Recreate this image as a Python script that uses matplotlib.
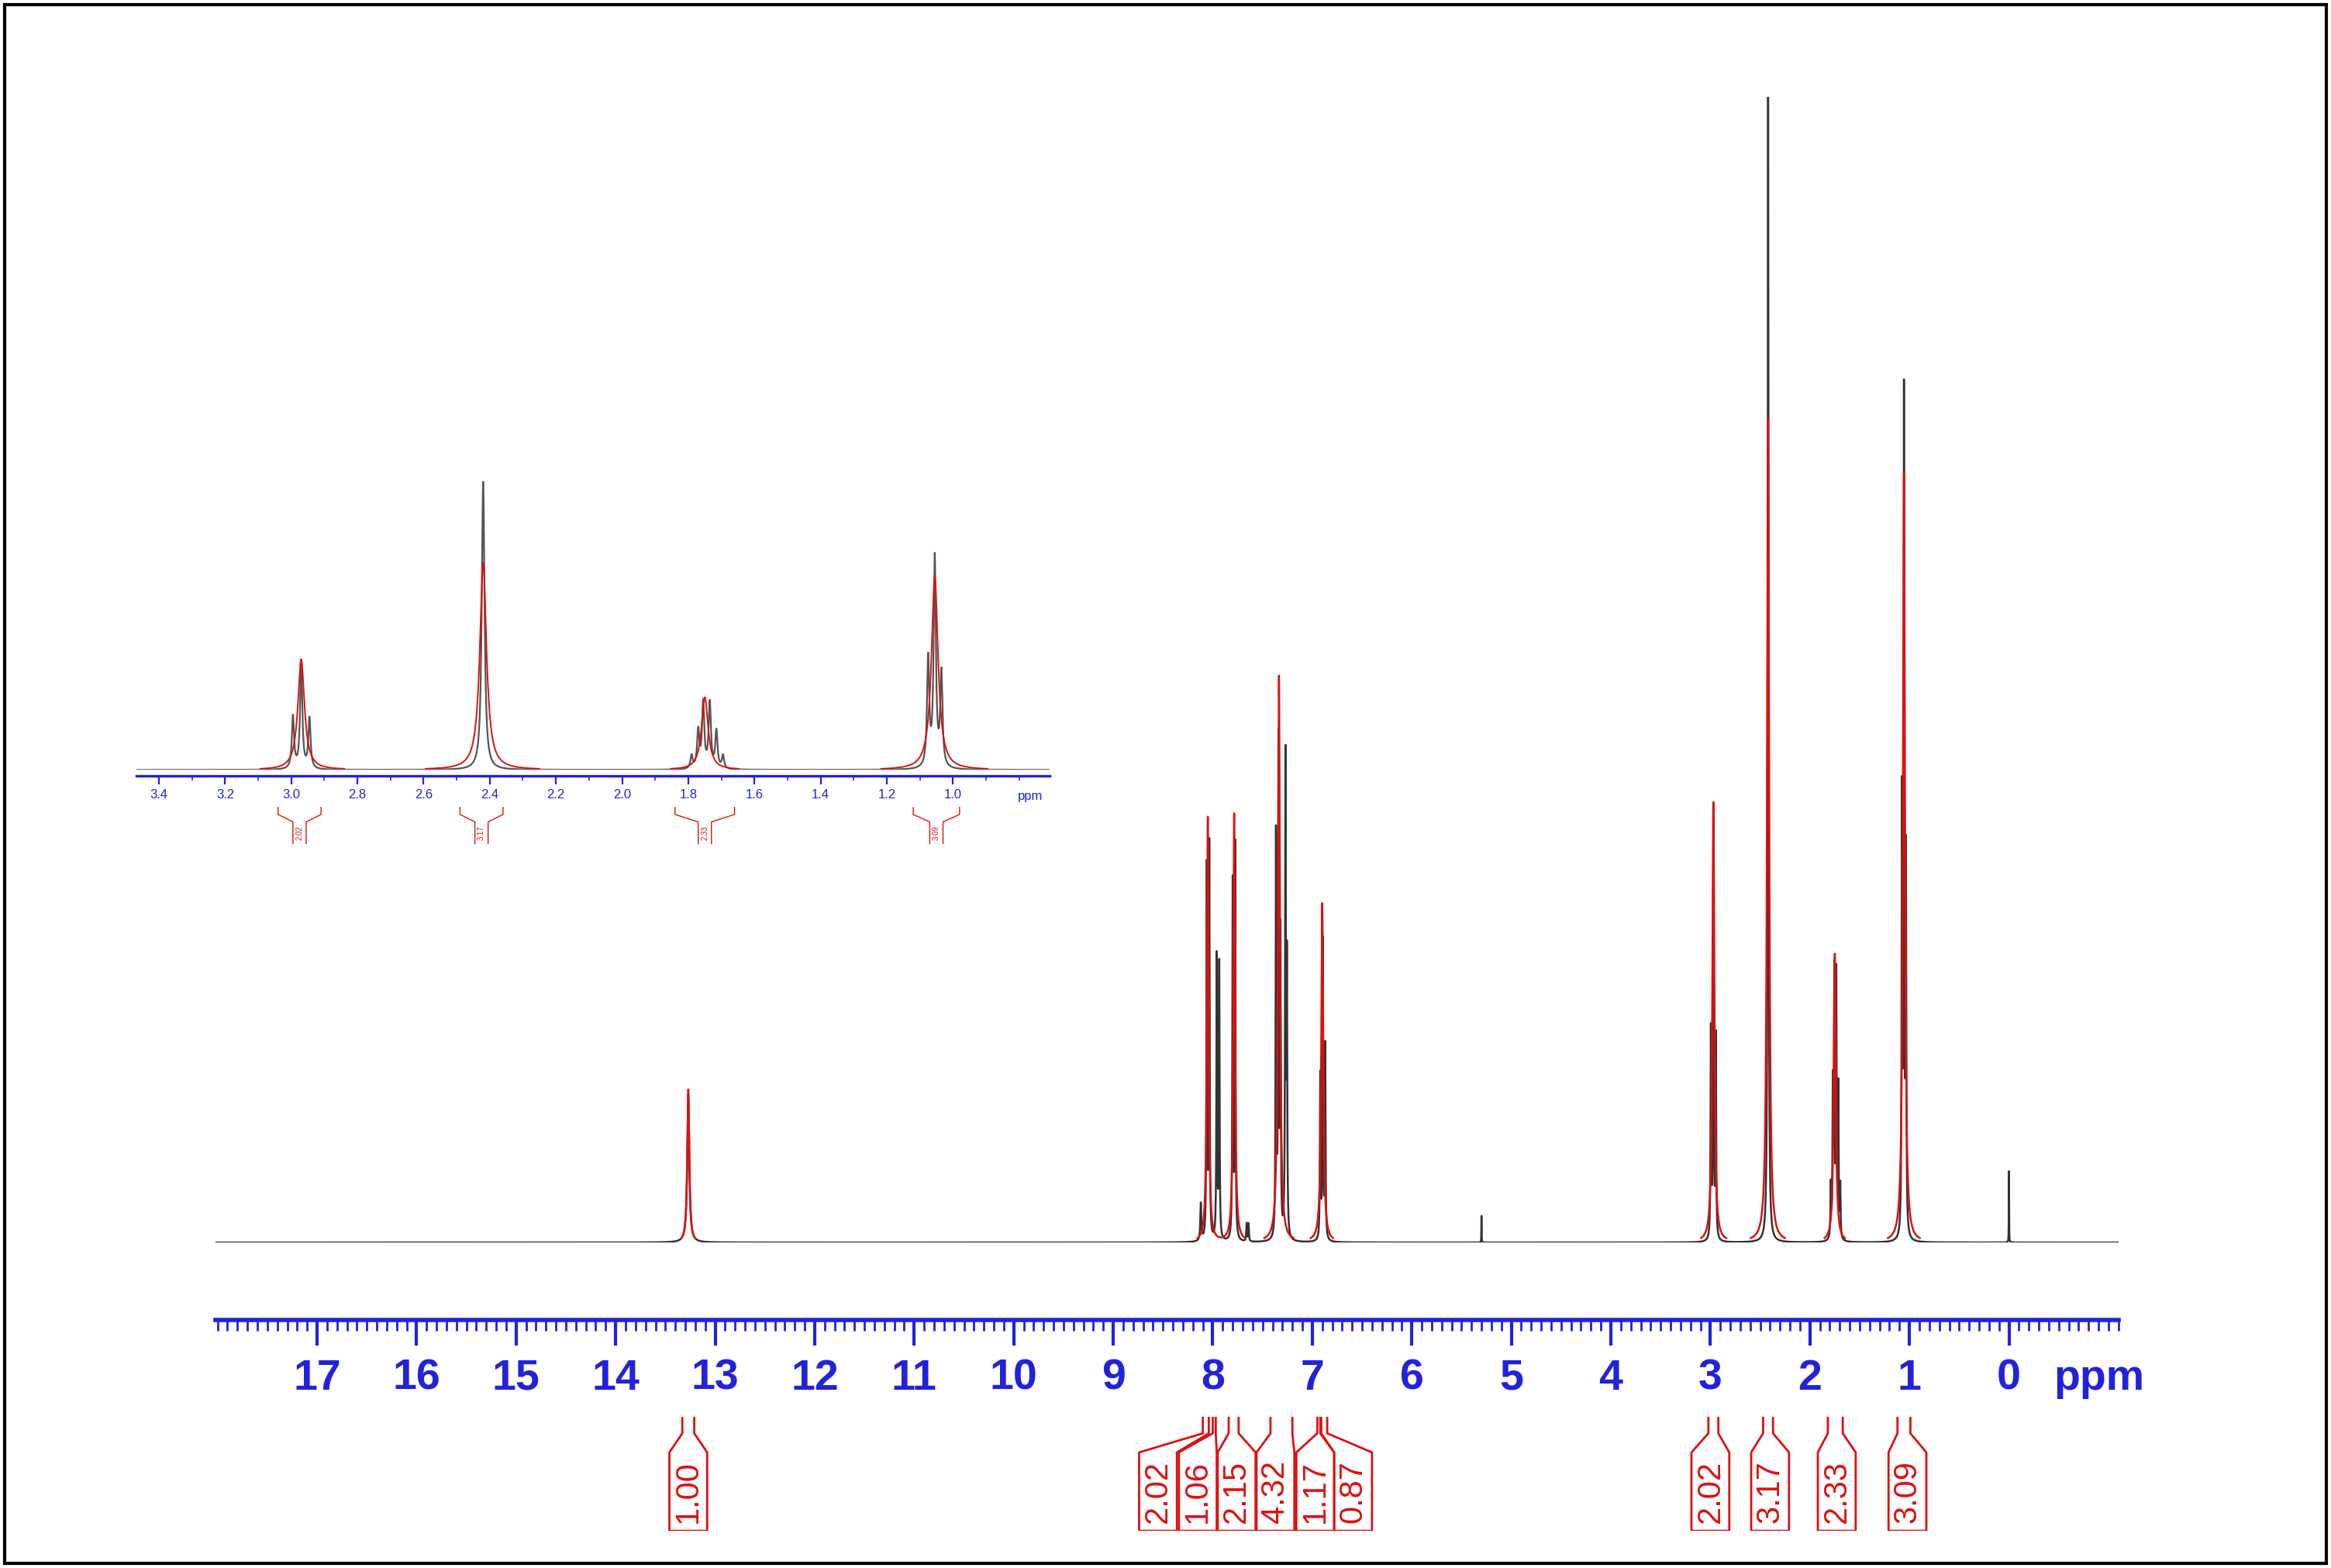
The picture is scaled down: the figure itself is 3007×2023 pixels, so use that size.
import numpy as np
import matplotlib
matplotlib.use("Agg")
import matplotlib.pyplot as plt
from matplotlib.ticker import MultipleLocator, FixedLocator
from matplotlib.patches import Rectangle
import matplotlib.transforms as mtrans

plt.rcParams['font.family'] = ['Liberation Sans', 'DejaVu Sans']

# ---- data (ppm, relative intensity) ----
peak_ppm = [13.27, 8.12, 8.06, 8.035, 7.96, 7.935, 7.80, 7.775, 7.66, 7.64,
            7.365, 7.34, 7.32, 7.27, 7.255, 6.92, 6.895, 6.87, 5.30,
            2.995, 2.97, 2.945, 2.42, 1.79, 1.77, 1.755, 1.735, 1.715, 1.695,
            1.075, 1.055, 1.035, 0.00]
peak_int = [100, 25, 250, 265, 190, 185, 240, 265, 12, 12,
            270, 330, 200, 320, 180, 110, 200, 130, 18,
            140, 275, 135, 771, 35, 100, 175, 175, 100, 35,
            290, 560, 250, 48]
peak_hw = [0.012, 0.006, 0.004, 0.004, 0.004, 0.004, 0.004, 0.004, 0.004, 0.004,
           0.004, 0.004, 0.004, 0.004, 0.004, 0.004, 0.004, 0.004, 0.0015,
           0.004, 0.004, 0.004, 0.005, 0.004, 0.004, 0.004, 0.004, 0.004, 0.004,
           0.004, 0.004, 0.004, 0.0015]

fit_ppm = [13.27, 8.05, 7.785, 7.335, 6.90, 2.97, 2.42, 1.75, 1.055]
fit_int = [103, 286, 288, 381, 228, 296, 554, 194, 518]
fit_hw = [0.012, 0.01, 0.01, 0.012, 0.012, 0.012, 0.012, 0.012, 0.012]

int_values = ["1.00", "2.02", "1.06", "2.15", "4.32", "1.17", "0.87", "2.02", "3.17", "2.33", "3.09"]
int_lo = [13.33, 8.10, 8.00, 7.84, 7.42, 6.95, 6.91, 3.02, 2.47, 1.82, 1.12]
int_hi = [13.21, 8.04, 7.97, 7.74, 7.20, 6.92, 6.85, 2.92, 2.37, 1.67, 0.99]
int_label_ppm = [13.27, 8.55, 8.15, 7.76, 7.37, 6.97, 6.59, 3.00, 2.40, 1.73, 1.02]

inset_values = ["2.02", "3.17", "2.33", "3.09"]
inset_lo = [3.04, 2.49, 1.84, 1.12]
inset_hi = [2.91, 2.36, 1.66, 0.98]

main_ticks = list(range(0, 18))
inset_ticks = [3.4, 3.2, 3.0, 2.8, 2.6, 2.4, 2.2, 2.0, 1.8, 1.6, 1.4, 1.2, 1.0]

# ---- spectrum synthesis from the peak list ----
x = np.linspace(18.1, -1.2, 80000)
def lor(pp, hh, ww):
    y = np.zeros_like(x)
    for p, h, w in zip(pp, hh, ww):
        y += h / (1 + ((x - p) / w) ** 2)
    return y
spec = lor(peak_ppm, peak_int, peak_hw)
fit = lor(fit_ppm, fit_int, fit_hw)
fit_m = np.where(fit > 3, fit, np.nan)

BLUE = "#2222dd"
RED = "#dd1111"
W, H = 1568.0, 1055.0
fig = plt.figure(figsize=(15.035, 10.115), dpi=200)
fig.patches.append(Rectangle((0.002, 0.003), 0.996, 0.994, transform=fig.transFigure,
                             fill=False, ec="black", lw=1.5))

L, R = 145 / W, 1425 / W
xl = (18.02, -1.10)

# main spectrum
ax = fig.add_axes([L, 1 - 836 / H, R - L, (836 - 65) / H])
ax.plot(x, spec, color="#333333", lw=0.9)
ax.plot(x, fit_m, color=RED, lw=0.9)
ax.set_xlim(xl); ax.set_ylim(0, 771)
ax.axis("off")

# ruler
ar = fig.add_axes([L, 1 - 888 / H, R - L, 0.0001])
ar.set_xlim(xl)
for s in ["top", "left", "right"]:
    ar.spines[s].set_visible(False)
ar.spines["bottom"].set_color(BLUE); ar.spines["bottom"].set_linewidth(2)
ar.set_yticks([])
ar.xaxis.set_major_locator(FixedLocator(main_ticks))
ar.xaxis.set_minor_locator(MultipleLocator(0.1))
ar.tick_params(axis="x", which="major", length=12, width=1.5, color=BLUE, pad=6,
               labelsize=20, labelcolor=BLUE)
ar.tick_params(axis="x", which="minor", length=5, width=1, color=BLUE)
for t in ar.get_xticklabels():
    t.set_fontweight("bold")
ar.text(-0.45, 0, "ppm", color=BLUE, fontsize=20, fontweight="bold", va="top", ha="left",
        transform=ar.get_xaxis_transform() + mtrans.ScaledTranslation(0, -0.25, fig.dpi_scale_trans))

# integrals (main)
ai = fig.add_axes([L, 1 - 1030 / H, R - L, 80 / H])
ai.set_xlim(xl); ai.set_ylim(0, 1); ai.axis("off")
bw = 0.19
for v, lo, hi, lp in zip(int_values, int_lo, int_hi, int_label_ppm):
    ai.plot([lo, lo, lp + bw, lp + bw, lp - bw, lp - bw, hi, hi],
            [0.95, 0.82, 0.66, 0.0, 0.0, 0.66, 0.82, 0.95], color=RED, lw=1)
    ai.text(lp, 0.33, v, rotation=90, ha="center", va="center", color=RED, fontsize=15)

# inset
iL, iR = 92 / W, 706 / W
ixl = (3.467, 0.708)
ax2 = fig.add_axes([iL, 1 - 518 / H, iR - iL, (518 - 324) / H])
m = (x < 3.47) & (x > 0.7)
ax2.plot(x[m], spec[m], color="#555555", lw=0.8)
ax2.plot(x[m], fit_m[m], color=RED, lw=0.7)
ax2.set_xlim(ixl); ax2.set_ylim(0, 771); ax2.axis("off")

ar2 = fig.add_axes([iL, 1 - 522 / H, iR - iL, 0.0001])
ar2.set_xlim(ixl)
for s in ["top", "left", "right"]:
    ar2.spines[s].set_visible(False)
ar2.spines["bottom"].set_color(BLUE); ar2.spines["bottom"].set_linewidth(1.2)
ar2.set_yticks([])
ar2.xaxis.set_major_locator(FixedLocator(inset_ticks))
ar2.xaxis.set_minor_locator(MultipleLocator(0.1))
ar2.set_xticklabels([f"{t:.1f}" for t in inset_ticks])
ar2.tick_params(axis="x", which="major", length=4, width=0.8, color=BLUE, pad=2,
                labelsize=6, labelcolor=BLUE)
ar2.tick_params(axis="x", which="minor", length=2, width=0.6, color=BLUE)
fig.text(693 / W, 1 - 536 / H, "ppm", color=BLUE, fontsize=6, ha="center", va="center")

ai2 = fig.add_axes([iL, 1 - 568 / H, iR - iL, 25 / H])
ai2.set_xlim(ixl); ai2.set_ylim(0, 1); ai2.axis("off")
for v, lo, hi in zip(inset_values, inset_lo, inset_hi):
    c = (lo + hi) / 2
    ai2.plot([lo, lo, c + 0.02, c + 0.02], [1.0, 0.8, 0.6, 0.0], color=RED, lw=0.5)
    ai2.plot([hi, hi, c - 0.02, c - 0.02], [1.0, 0.8, 0.6, 0.0], color=RED, lw=0.5)
    ai2.text(c, 0.3, v, rotation=90, ha="center", va="center", color=RED, fontsize=3.5)

fig.savefig("out.png", dpi=200)
